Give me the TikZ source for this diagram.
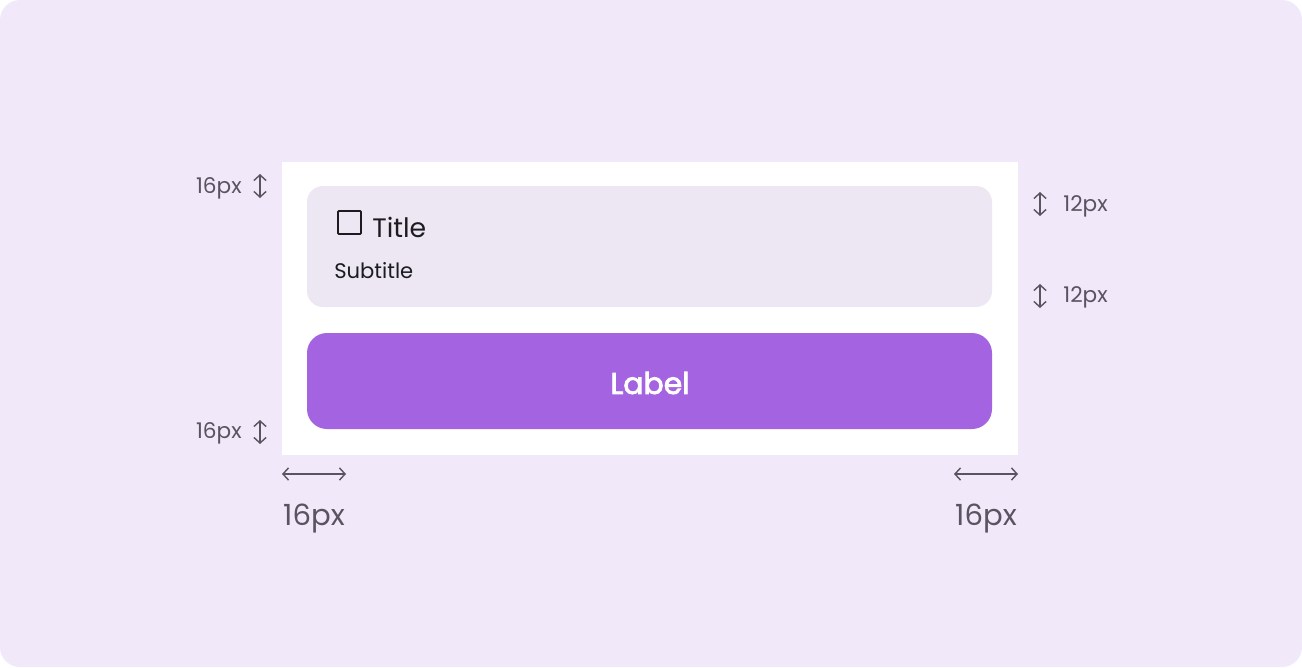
\documentclass[tikz,border=0pt]{standalone}
\usepackage{fontspec}
\setmainfont{Poppins}
\newfontfamily\labelfont{Poppins}[FakeBold=2.6]
\usepackage{xcolor}
\usetikzlibrary{arrows.meta}

\definecolor{bgpurple}{HTML}{F1E8F9}
\definecolor{itemgray}{HTML}{EDE7F4}
\definecolor{btnpurple}{HTML}{A464E2}
\definecolor{dimgray}{HTML}{59545F}
\definecolor{inkdark}{HTML}{1C1B1F}

\begin{document}
\begin{tikzpicture}[x=0.02cm,y=-0.02cm,>={Straight Barb[length=3.2pt,width=7pt]}]
  \tikzstyle{dimarrow}=[<->,draw=dimgray,line width=0.8pt]
  \tikzstyle{dimlabel}=[text=dimgray,font=\fontsize{12.3}{14}\selectfont,inner sep=0pt]
  \tikzstyle{biglabel}=[text=dimgray,font=\fontsize{16.6}{19}\selectfont,inner sep=0pt]

  
  \fill[white] (0,0) rectangle (1302,667);
  \fill[bgpurple,rounded corners=0.4cm] (0,0) rectangle (1302,667);
  \useasboundingbox (0,0) rectangle (1302,667);

  
  \fill[white] (282,162) rectangle (1018,455);
  \fill[itemgray,rounded corners=0.32cm] (307,186) rectangle (992,307);
  \fill[btnpurple,rounded corners=0.4cm] (307,333) rectangle (992,429);

  
  \draw[inkdark,line width=1.1pt,rounded corners=0.5pt] (338,211) rectangle (361,234);
  \node[anchor=west,text=inkdark,inner sep=0pt,font=\fontsize{15.2}{17}\selectfont] (title) at (372,227) {Title};
  \node[anchor=west,text=inkdark,inner sep=0pt,font=\fontsize{12}{14}\selectfont] (subtitle) at (334,271) {Subtitle};
  \node[text=white,inner sep=0pt,font=\fontsize{17}{20}\labelfont] (label) at (650,383) {Label};

  
  \node[dimlabel,anchor=east] (topleft) at (242,188) {16px};
  \node[dimlabel,anchor=east] (botleft) at (242,433) {16px};
  \node[dimlabel,anchor=west] (topright) at (1063,206) {12px};
  \node[dimlabel,anchor=west] (midright) at (1063,297) {12px};
  \node[biglabel] (leftpad) at (314,519) {16px};
  \node[biglabel] (rightpad) at (986,519) {16px};

  
  \coordinate (a1) at (260,174);
  \coordinate (a2) at (260,198);
  \coordinate (b1) at (260,420);
  \coordinate (b2) at (260,444);
  \coordinate (c1) at (1040,192);
  \coordinate (c2) at (1040,216);
  \coordinate (d1) at (1040,284);
  \coordinate (d2) at (1040,308);
  \coordinate (e1) at (282,474);
  \coordinate (e2) at (346,474);
  \coordinate (f1) at (954,474);
  \coordinate (f2) at (1018,474);

  \draw[dimarrow] (a1) -- (a2);
  \draw[dimarrow] (b1) -- (b2);
  \draw[dimarrow] (c1) -- (c2);
  \draw[dimarrow] (d1) -- (d2);
  \draw[dimarrow] (e1) -- (e2);
  \draw[dimarrow] (f1) -- (f2);

\end{tikzpicture}
\end{document}
